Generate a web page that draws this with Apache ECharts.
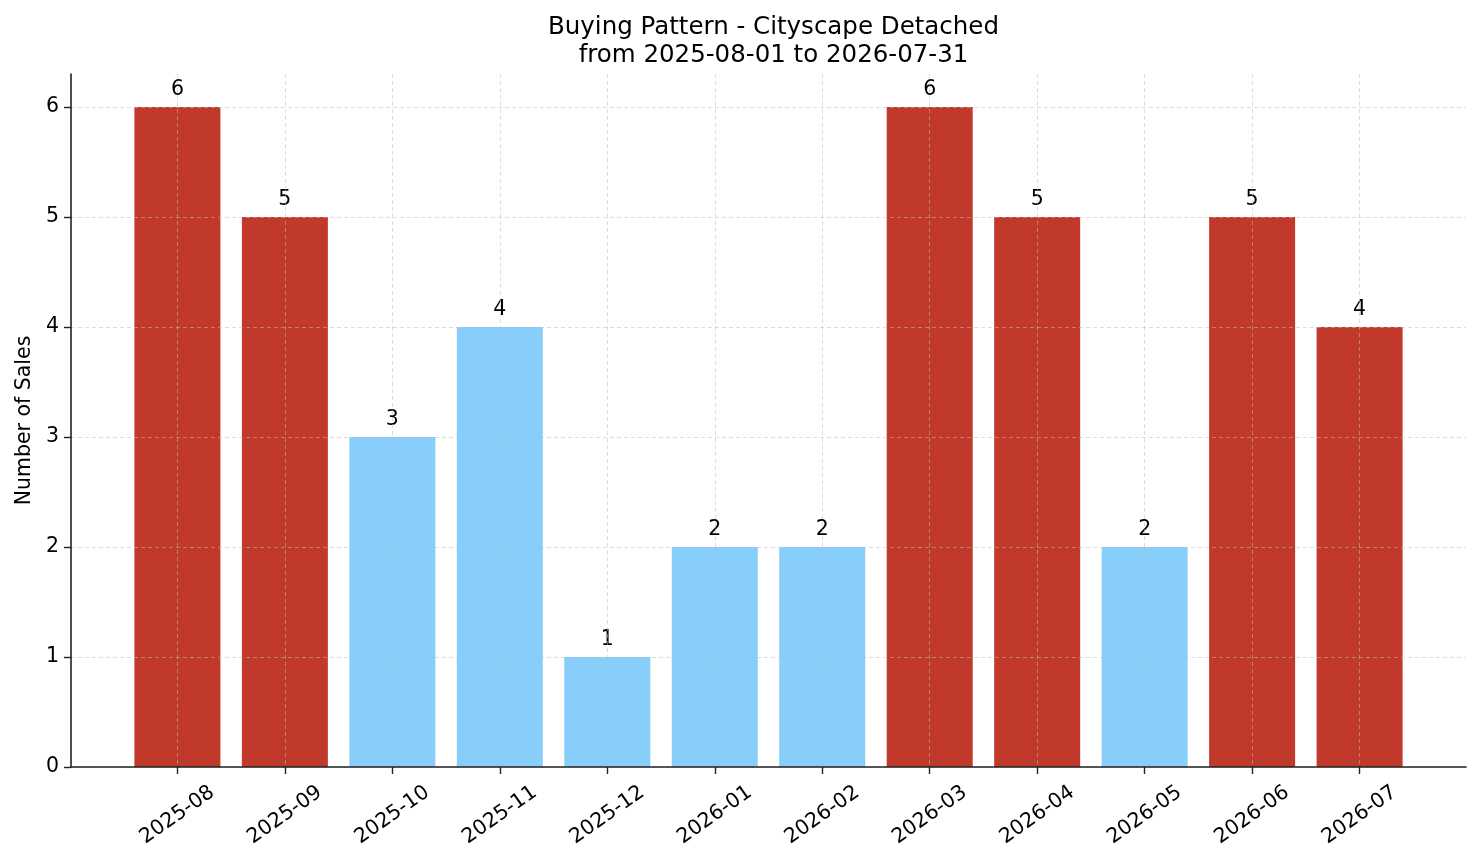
<!doctype html>
<html>
<head>
<meta charset="utf-8">
<script src="https://cdn.jsdelivr.net/npm/echarts@6/dist/echarts.min.js"></script>
<style>
  html, body { margin: 0; padding: 0; background: #fff; }
  #main { width: 1481px; height: 863px; }
</style>
</head>
<body>
<div id="main"></div>
<script>
// data
var months = ['2025-08', '2025-09', '2025-10', '2025-11', '2025-12', '2026-01',
              '2026-02', '2026-03', '2026-04', '2026-05', '2026-06', '2026-07'];
var sales = [6, 5, 3, 4, 1, 2, 2, 6, 5, 2, 5, 4];
// 1 = red (high month), 0 = light blue
var highMonth = [1, 1, 0, 0, 0, 0, 0, 1, 1, 0, 1, 1];
var yTicks = [0, 1, 2, 3, 4, 5, 6];

var RED = '#c0392b';
var BLUE = '#87cefa';
var FONT = 'DejaVu Sans';

var xTicks = months.map(function (m, i) { return i; });

var barData = sales.map(function (v, i) {
    return {
        value: [i, v],
        itemStyle: { color: highMonth[i] ? RED : BLUE }
    };
});

var gridLine = {
    show: true,
    lineStyle: { color: 'rgba(190,190,190,0.65)', width: 0.8, type: [4, 3] }
};

var chart = echarts.init(document.getElementById('main'), null, { renderer: 'canvas' });

chart.setOption({
    animation: false,
    textStyle: { fontFamily: FONT },
    title: {
        text: 'Buying Pattern - Cityscape Detached\nfrom 2025-08-01 to 2026-07-31',
        left: 768.5,
        top: 9,
        textAlign: 'center',
        textStyle: { fontFamily: FONT, fontSize: 24.5, fontWeight: 'normal', color: '#000', lineHeight: 28 }
    },
    grid: { left: 71, right: 15, top: 74, bottom: 96, containLabel: false },
    xAxis: {
        type: 'value',
        min: -0.99,
        max: 11.99,
        z: 5,
        axisLine: { show: true, onZero: false, lineStyle: { color: '#222', width: 1.6 } },
        axisTick: { show: true, length: 7, customValues: xTicks, lineStyle: { color: '#222', width: 1.4 } },
        axisLabel: {
            customValues: xTicks,
            formatter: function (v) { return months[Math.round(v)] || ''; },
            rotate: 35,
            align: 'center',
            verticalAlign: 'middle',
            margin: 48,
            fontFamily: FONT,
            fontSize: 20.5,
            color: '#000'
        },
        splitLine: gridLine
    },
    yAxis: {
        type: 'value',
        min: 0,
        max: 6.3,
        z: 5,
        name: 'Number of Sales',
        nameLocation: 'middle',
        nameGap: 36,
        nameRotate: 90,
        nameTextStyle: { fontFamily: FONT, fontSize: 20.5, color: '#000' },
        axisLine: { show: true, onZero: false, lineStyle: { color: '#222', width: 1.6 } },
        axisTick: { show: true, length: 7, customValues: yTicks, lineStyle: { color: '#222', width: 1.4 } },
        axisLabel: {
            customValues: yTicks,
            margin: 12,
            fontFamily: FONT,
            fontSize: 20.5,
            color: '#000'
        },
        splitLine: gridLine
    },
    series: [{
        type: 'bar',
        barWidth: 86,
        data: barData,
        label: {
            show: true,
            position: 'top',
            distance: 7,
            formatter: function (p) { return p.value[1]; },
            fontFamily: FONT,
            fontSize: 20.5,
            color: '#000'
        }
    }]
});
</script>
</body>
</html>
